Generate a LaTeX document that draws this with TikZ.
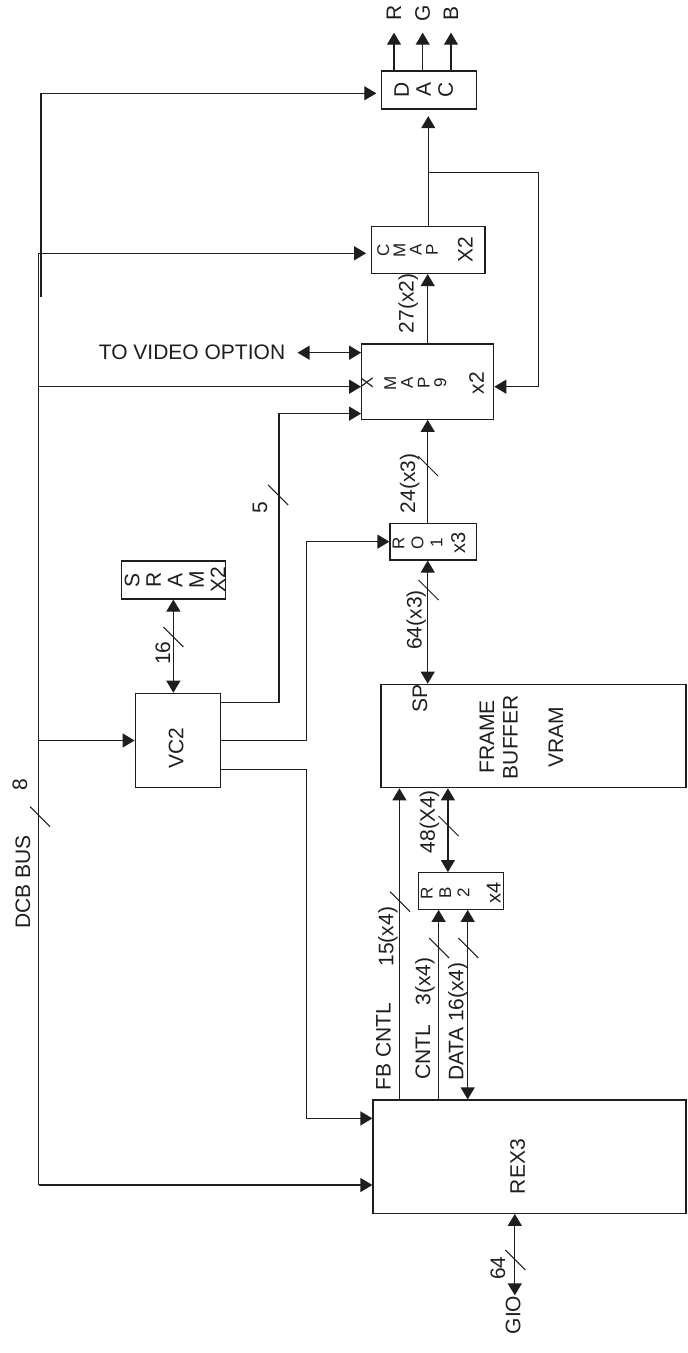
\documentclass[tikz,border=0pt]{standalone}
\usepackage{fontspec}
\setmainfont{Liberation Sans}
\usetikzlibrary{arrows.meta,calc}
\definecolor{ink}{HTML}{1E1E1E}
\tikzset{
  >={Triangle[length=6pt,width=7pt]},
  every node/.style={text=ink},
  blk/.style={draw=ink,line width=0.6pt,inner sep=0pt},
  lbl/.style={rotate=90,inner sep=0pt,font=\fontsize{10.5}{11}\selectfont},
  btxt/.style={rotate=90,align=center,inner sep=0pt},
  wire/.style={line width=0.6pt,draw=ink},
  arrow/.style={->,wire},
  dblarrow/.style={<->,wire},
}
\newcommand{\busmark}[1]{\draw[line width=0.5pt,draw=ink] ($(#1)+(-10,-10)$) -- ($(#1)+(10,10)$);}

\begin{document}
\begin{tikzpicture}[x=0.5pt,y=-0.5pt]
\useasboundingbox (0,0) rectangle (687,1353);

% blocks
\node[blk,minimum width=47.5pt,minimum height=19pt] (dac) at (429.2,90) {};
\node[blk,minimum width=56.75pt,minimum height=23.4pt] (cmap) at (428.25,250.1) {};
\node[blk,minimum width=66pt,minimum height=37.65pt] (xmap) at (427.7,381.65) {};
\node[blk,minimum width=43.35pt,minimum height=18.35pt] (rom) at (433.35,541.65) {};
\node[blk,minimum width=52.25pt,minimum height=19pt] (sram) at (173.35,580) {};
\node[blk,minimum width=42.75pt,minimum height=47.2pt] (vc2) at (177.95,740.5) {};
\node[blk,minimum width=152.5pt,minimum height=51.7pt] (fb) at (533.5,736) {};
\node[blk,minimum width=42.5pt,minimum height=18.3pt] (rb2) at (460.8,891) {};
\node[blk,minimum width=156.5pt,minimum height=56.65pt] (rex3) at (529.5,1156.65) {};

% block texts
\node[btxt,font=\fontsize{10.5}{11}\selectfont] (dac-t) at (423.8,90) {D\\A\\C};
\node[btxt,font=\fontsize{8.5}{8.1}\selectfont] (cmap-t) at (425,250) {C\\M\\A\\P\\[9.3pt]{\fontsize{10.5}{8}\selectfont X2}};
\node[btxt,font=\fontsize{8.5}{8.35}\selectfont] (xmap-t) at (422.5,383) {X\\[3.3pt]M\\A\\P\\9\\[10.5pt]{\fontsize{10.5}{8}\selectfont x2}};
\node[btxt,font=\fontsize{8.5}{9.5}\selectfont] (rom-t) at (429,543) {R\\O\\1\\[1.8pt]{\fontsize{10}{8}\selectfont x3}};
\node[btxt,font=\fontsize{8.5}{9.15}\selectfont] (rb2-t) at (460.8,893) {R\\B\\2\\[6.5pt]{\fontsize{10}{8}\selectfont x4}};
\node[btxt,font=\fontsize{10.5}{10.75}\selectfont] (sram-t) at (175,580) {S\\R\\A\\M\\X2};
\node[btxt,font=\fontsize{10.5}{11.75}\selectfont] (fb-t) at (521.5,737) {FRAME\\BUFFER\\[11pt]VRAM};
\node[lbl] (sp) at (420,698.3) {SP};
\node[lbl] (vc2-t) at (176.2,748) {VC2};
\node[lbl] (rex3-t) at (517.6,1166.7) {REX3};

% DAC outputs
\foreach \c/\x in {R/394,G/422.7,B/451} {
  \node[lbl] (\c) at (\x,13.3) {\c};
  \draw[arrow] (dac.north -| \c) -- ++(0,-37.7);
}

% DCB bus
\coordinate (busA) at (41,93.3);
\coordinate (busAend) at (41,296.7);
\coordinate (busB) at (38.5,253.3);
\coordinate (busBend) at (38.5,1185);
\coordinate (xin) at (39.3,386.7);
\draw[wire] (busAend) -- (busA);
\draw[arrow,shorten >=2.4pt] (busA) -- (busA -| dac.west);
\draw[wire] (busB) -- (busBend);
\draw[arrow,shorten >=2.4pt] (busB) -- (busB -| cmap.west);
\draw[arrow] (xin) -- (xin -| xmap.west);
\draw[arrow] (busB |- vc2.west) -- (vc2.west);
\draw[arrow] (busBend) -- (busBend -| rex3.west);
\busmark{40,816.7}
\node[lbl] (l8) at (20,785) {8};
\node[lbl] (ldcb) at (23,882) {DCB BUS};

% colour map path
\draw[arrow,shorten >=3.3pt] (cmap.north) -- (cmap.north |- dac.south);
\coordinate (split) at ($(cmap.north)+(0,-53.4)$);
\draw[arrow] (split) -- ++(110,0) |- (xin -| xmap.east);
\draw[arrow] (xmap.north) -- (xmap.north |- cmap.south);
\node[lbl] (l27) at (408.3,303.3) {27(x2)};

% video option
\node[inner sep=0pt,font=\fontsize{10.5}{11}\selectfont] (video) at (192,352.7) {TO VIDEO OPTION};
\draw[dblarrow] ([xshift=6pt]video.east) -- (video.east -| xmap.west);

% VC2 outputs
\draw[arrow] ($(vc2.north east)+(0,10)$) -- ++(57.7,0) |- ($(xmap.south west)+(0,-6.3)$);
\busmark{278.2,495}
\node[lbl] (l5) at (260,507.3) {5};
\draw[arrow] (vc2.east) -- ++(85.5,0) |- (rom.west);
\draw[arrow] ($(vc2.south east)+(0,-18.7)$) -- ++(85.5,0) |- ($(rex3.north west)+(0,19)$);
\draw[dblarrow] (sram.south) -- (sram.south |- vc2.north);
\busmark{173.4,637}
\node[lbl] (l16) at (163,653) {16};

% ROM
\draw[arrow] (xmap.south |- rom.north) -- (xmap.south);
\busmark{428,466}
\node[lbl] (l24) at (409.7,483.3) {24(x3)};
\draw[dblarrow] (xmap.south |- rom.south) -- (xmap.south |- fb.north);
\busmark{428.5,590}
\node[lbl] (l64r) at (416.3,620) {64(x3)};

% frame buffer side
\coordinate (rbtop) at ($(rb2.north west)+(30.2,0)$);
\draw[dblarrow] (rbtop) -- (rbtop |- fb.south);
\busmark{448.5,826}
\node[lbl] (l48) at (429.5,821.7) {48(X4)};

\coordinate (fbc) at ($(rex3.north west)+(27,0)$);
\draw[arrow] (fbc) -- (fbc |- fb.south);
\busmark{400,901.7}
\node[lbl] (l15) at (388,936.7) {15(x4)};
\node[lbl] (lfbc) at (383.3,1046.7) {FB CNTL};

\coordinate (cntl) at ($(rex3.north west)+(66.2,0)$);
\draw[arrow] (cntl) -- (cntl |- rb2.south);
\busmark{439.2,948}
\node[lbl] (l3) at (425,981.7) {3(x4)};
\node[lbl] (lcntl) at (423,1052) {CNTL};

\coordinate (data) at ($(rex3.north west)+(95.3,0)$);
\draw[dblarrow] (data) -- (data |- rb2.south);
\busmark{468.3,948}
\node[lbl] (ldata) at (458,1021.5) {DATA 16(x4)};

% GIO
\coordinate (gio) at ($(rex3.south west)+(142.4,0)$);
\node[lbl] (lgio) at (513.2,1315) {GIO};
\draw[dblarrow] (gio) -- (gio |- lgio.east);
\busmark{515.4,1260}
\node[lbl] (l64) at (497.8,1268) {64};

\end{tikzpicture}
\end{document}
